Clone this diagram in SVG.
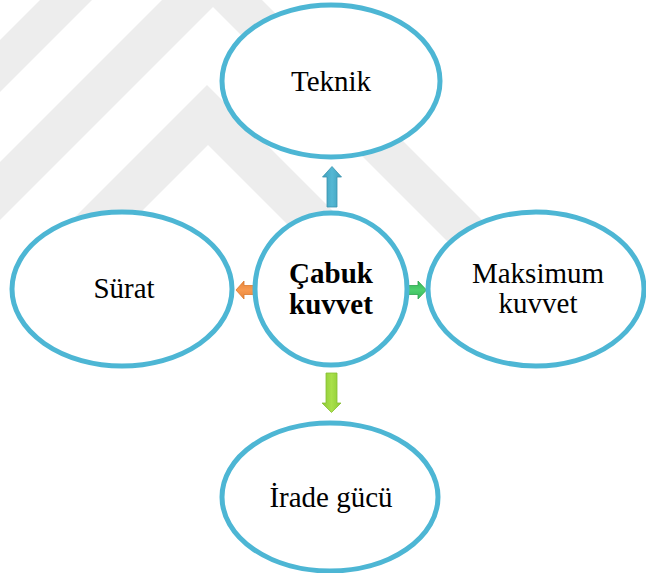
<svg xmlns="http://www.w3.org/2000/svg" width="646" height="573" viewBox="0 0 646 573">
  <defs>
    <style>
      .wm { fill: #ededed; stroke: none; }
      .node { fill: #ffffff; stroke: #4db6d4; stroke-width: 5; }
      .lbl { font-family: 'Liberation Serif', 'Times New Roman', serif; font-size: 29px; fill: #000000; text-anchor: middle; }
      .bold { font-weight: bold; }
      .arrow { stroke-width: 0.8; }
    </style>
    <linearGradient id="gBlue" x1="0" y1="0" x2="1" y2="0">
      <stop offset="0" stop-color="#3f9fbb"/>
      <stop offset="0.5" stop-color="#55b8d4"/>
      <stop offset="1" stop-color="#3f9fbb"/>
    </linearGradient>
    <linearGradient id="gLime" x1="0" y1="0" x2="1" y2="0">
      <stop offset="0" stop-color="#8cc934"/>
      <stop offset="0.5" stop-color="#a9e04a"/>
      <stop offset="1" stop-color="#8cc934"/>
    </linearGradient>
    <linearGradient id="gOrange" x1="0" y1="0" x2="0" y2="1">
      <stop offset="0" stop-color="#e9843a"/>
      <stop offset="0.5" stop-color="#f79a50"/>
      <stop offset="1" stop-color="#e9843a"/>
    </linearGradient>
    <linearGradient id="gGreen" x1="0" y1="0" x2="0" y2="1">
      <stop offset="0" stop-color="#34b85a"/>
      <stop offset="0.5" stop-color="#4fd06f"/>
      <stop offset="1" stop-color="#34b85a"/>
    </linearGradient>
  </defs>

  <rect x="0" y="0" width="646" height="573" fill="#ffffff"/>

  <g id="watermark">
    <polygon class="wm" points="40,0 92,0 0,92 0,40"/>
    <polygon class="wm" points="0,162 212,-50 512,250 456,250 213,7 0,220"/>
    <polygon class="wm" points="32,260 207,85 392,270 333,270 208,145 93,260"/>
  </g>

  <g id="connectors">
    <polygon class="arrow" fill="url(#gBlue)" stroke="#3a93ad" points="327,207 327,177 322.5,177 332,166.5 341.5,177 337,177 337,207"/>
    <polygon class="arrow" fill="url(#gLime)" stroke="#86bf32" points="326,373 326,403 322,403 331.5,412.5 341,403 337,403 337,373"/>
    <polygon class="arrow" fill="url(#gOrange)" stroke="#d9792f" points="254,285.5 244,285.5 244,281 236,290 244,299 244,294.5 254,294.5"/>
    <polygon class="arrow" fill="url(#gGreen)" stroke="#2fa551" points="408,285.5 418,285.5 418,281 426.5,290 418,299 418,294.5 408,294.5"/>
  </g>

  <g id="node-teknik">
    <ellipse class="node" cx="331" cy="81" rx="109" ry="76"/>
    <text class="lbl" font-family="Liberation Serif, serif" x="331" y="91">Teknik</text>
  </g>

  <g id="node-surat">
    <ellipse class="node" cx="122" cy="289" rx="110" ry="77"/>
    <text class="lbl" font-family="Liberation Serif, serif" x="124" y="298">Sürat</text>
  </g>

  <g id="node-center">
    <ellipse class="node" cx="331" cy="289" rx="76" ry="76"/>
    <text class="lbl bold" font-family="Liberation Serif, serif" x="331" y="283">Çabuk</text>
    <text class="lbl bold" font-family="Liberation Serif, serif" x="331" y="314">kuvvet</text>
  </g>

  <g id="node-maksimum">
    <ellipse class="node" cx="536" cy="289" rx="108" ry="77"/>
    <text class="lbl" font-family="Liberation Serif, serif" x="538" y="283">Maksimum</text>
    <text class="lbl" font-family="Liberation Serif, serif" x="538" y="313">kuvvet</text>
  </g>

  <g id="node-irade">
    <ellipse class="node" cx="330" cy="497" rx="108" ry="74"/>
    <text class="lbl" font-family="Liberation Serif, serif" x="331" y="507">İrade gücü</text>
  </g>
</svg>
